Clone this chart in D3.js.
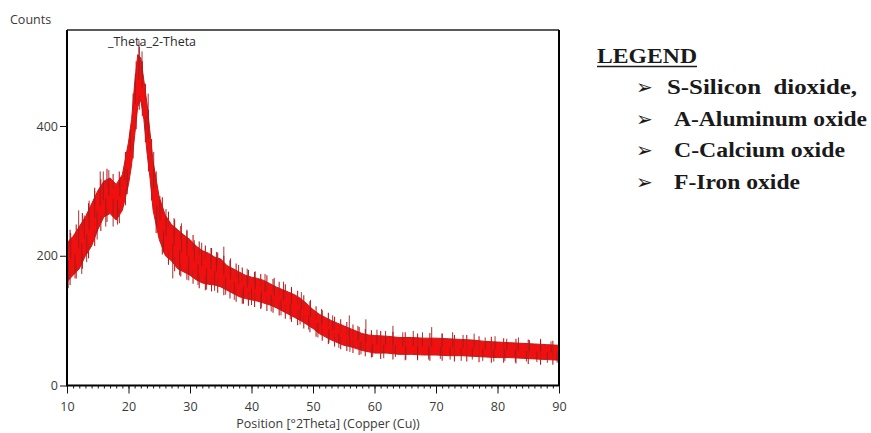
<!DOCTYPE html>
<html>
<head>
<meta charset="utf-8">
<script src="https://cdn.jsdelivr.net/npm/d3@7"></script>
<style>
  html, body { margin: 0; padding: 0; background: #fff; }
  svg { display: block; }
</style>
</head>
<body>
<svg id="chart" width="871" height="433"></svg>
<script>
// ---- data ----
const angles = [10,11,12,13,14,15,16,17,18,19,20,20.5,21,21.5,22,22.5,23,23.5,24,25,26,27,28,29,30,31,32,33,34,35,36,37,38,39,40,41,42,43,44,45,46,47,48,49,50,51,52,53,54,55,56,57,58,59,60,62,64,66,68,70,72,74,76,78,80,82,84,86,88,90];
const countsLow = [160,170,180,200,215,240,260,265,255,270,310,340,385,430,440,410,360,320,270,225,200,192,180,175,170,163,158,156,155,152,147,142,137,134,132,130,127,124,120,115,110,105,100,94,88,80,75,70,66,62,60,57,54,52,50,50,48,48,47,47,46,46,45,44,43,43,42,41,40,39];
const countsHigh = [220,230,245,260,280,300,315,320,310,325,375,410,465,510,505,470,435,390,345,290,262,248,240,232,225,215,208,204,198,195,185,180,175,170,167,165,162,157,152,148,144,140,134,126,117,110,105,100,96,92,88,84,80,78,77,76,74,74,73,73,72,71,70,68,67,66,65,64,63,62];
// tall spikes
const spikeUpAngles = [10.6,11.9,12.8,13.6,14.5,15.4,15.9,16.8,18.6,19.4,20.3,21.1,21.7,22.2,23.2,24.1,25.1,26.1,27.4,28.6,29.5,30.7,31.9,33.4,34.3,35.5,36.6,37.9,39.3,40.6,42.2,43.7,45.2,46.5,48.1,49.6,51.4,53.2,55.9,57.3,58.6,60.4,61.8,63.0,64.6,66.3,67.8,69.3,71.0,72.7,74.4,76.2,78.0,79.6,81.5,83.4,85.2,87.0,88.7];
const spikeUpCounts = [235,270,262,285,300,330,330,332,320,335,395,480,532,515,450,360,292,272,258,250,238,224,220,212,206,214,196,186,180,176,172,166,160,152,144,132,118,108,108,92,102,86,84,92,82,84,82,90,80,82,78,80,74,76,72,74,70,72,68];
const spikeDownAngles = [10.2,11.3,12.4,13.2,14.9,16.3,17.5,18.2,19.8,22.8,24.6,25.7,27.2,28.3,29.8,31.3,32.7,34.0,35.8,37.2,38.7,40.0,41.6,43.2,44.8,46.3,47.9,49.3,50.8,52.6,54.2,56.0,57.8,59.7,61.5,63.4,65.1,67.0,68.8,70.7,72.3,74.1,75.9,77.6,79.4,81.2,82.9,84.7,86.4,88.1,89.7];
const spikeDownCounts = [150,165,172,190,225,245,245,248,295,395,245,205,165,170,162,155,148,146,140,132,126,124,120,114,108,102,94,86,74,66,58,52,48,44,42,44,40,42,40,41,40,38,40,38,37,38,36,37,36,35,35];
// small noise fringe along the band edges
const fringeUpAngles = [10.5,11.5,12.5,13.5,14.5,15.5,16.5,17.5,18.5,19.5,20.75,21.25,21.75,22.25,22.75,23.25,23.75,24.5,25.5,26.5,27.5,28.5,29.5,30.5,31.5,32.5,33.5,34.5,35.5,36.5,37.5,38.5,39.5,40.5,41.5,42.5,43.5,44.5,45.5,46.5,47.5,48.5,49.5,50.5,51.5,52.5,53.5,54.5,55.5,56.5,57.5,58.5,59.5,61,63,65,67,69,71,73,75,77,79,81,83,85,87,89];
const fringeUpCounts = [240,248,266,281,305,318,334,326,330,360,450,500,522,500,465,425,380,330,290,268,256,246,240,232,222,216,212,205,200,193,188,182,178,175,172,170,164,160,156,151,146,139,130,122,116,112,106,102,98,94,90,87,85,84,83,82,80,81,80,78,78,76,75,73,72,71,70,69];
const fringeDownAngles = [10.5,11.5,12.5,13.5,14.5,15.5,16.5,18.5,19.5,20.75,21.25,21.75,22.25,22.75,23.25,23.75,24.5,25.5,26.5,27.5,28.5,29.5,30.5,31.5,32.5,33.5,34.5,35.5,36.5,37.5,38.5,39.5,40.5,41.5,42.5,43.5,44.5,45.5,46.5,47.5,48.5,49.5,50.5,51.5,52.5,53.5,54.5,55.5,56.5,57.5,58.5,59.5,61,63,65,67,69,71,73,75,77,79,81,83,85,87,89];
const fringeDownCounts = [155,165,180,196,215,238,252,250,278,350,395,425,415,375,330,285,235,202,186,176,168,163,157,150,147,145,143,139,134,129,126,123,121,118,115,112,108,103,98,93,88,82,75,69,64,60,56,53,50,47,45,43,41,40,39,39,38,38,37,37,36,35,35,34,33,32,32];
const xTicks = [10,20,30,40,50,60,70,80,90];
const yTicks = [0,200,400];
const legendItems = ["S-Silicon  dioxide,", "A-Aluminum oxide", "C-Calcium oxide", "F-Iron oxide"];

// ---- drawing ----
const svg = d3.select("#chart");
const L = 67, R = 559, T = 30, B = 385.5;
const x = d3.scaleLinear().domain([10, 90]).range([L, R]);
const y = d3.scaleLinear().domain([0, 548]).range([B, T]);

const band = angles.map((a, i) => ({a, lo: countsLow[i], hi: countsHigh[i]}));
const red = "#f01010";

svg.append("path")
  .datum(band)
  .attr("d", d3.area().x(d => x(d.a)).y0(d => y(d.lo)).y1(d => y(d.hi)))
  .attr("fill", red)
  .attr("stroke", "#c41a1a")
  .attr("stroke-width", 1);

// band limits at a given angle (anchor for spikes)
const bis = d3.bisector(d => d.a).left;
function bandAt(a) {
  let i = Math.max(1, Math.min(band.length - 1, bis(band, a)));
  const p = band[i - 1], q = band[i];
  const t = (a - p.a) / (q.a - p.a);
  return {lo: p.lo * (1 - t) + q.lo * t, hi: p.hi * (1 - t) + q.hi * t};
}
function centre(a) { const b = bandAt(a); return (b.lo + b.hi) / 2; }

const fringe = fringeUpAngles.map((a, i) => ({a, v: fringeUpCounts[i], up: true}))
  .concat(fringeDownAngles.map((a, i) => ({a, v: fringeDownCounts[i], up: false})));
svg.append("g").selectAll("line").data(fringe).join("line")
  .attr("x1", d => x(d.a)).attr("x2", d => x(d.a))
  .attr("y1", d => { const b = bandAt(d.a); return y(d.up ? b.hi - 12 : b.lo + 12); })
  .attr("y2", d => y(d.v))
  .attr("stroke", "#c21b1b").attr("stroke-width", 1.1);

const spikes = spikeUpAngles.map((a, i) => ({a, v: spikeUpCounts[i]}))
  .concat(spikeDownAngles.map((a, i) => ({a, v: spikeDownCounts[i]})));
svg.append("g").selectAll("line").data(spikes).join("line")
  .attr("x1", d => x(d.a)).attr("x2", d => x(d.a))
  .attr("y1", d => y(centre(d.a))).attr("y2", d => y(d.v))
  .attr("stroke", "#9c1c1c").attr("stroke-width", 0.9);

// frame
svg.append("line").attr("x1", L).attr("x2", R).attr("y1", T).attr("y2", T).attr("stroke", "#222").attr("stroke-width", 1.3);
svg.append("line").attr("x1", R).attr("x2", R).attr("y1", T).attr("y2", B).attr("stroke", "#000").attr("stroke-width", 2);
svg.append("line").attr("x1", L).attr("x2", L).attr("y1", T).attr("y2", B + 1).attr("stroke", "#000").attr("stroke-width", 2);
svg.append("line").attr("x1", L).attr("x2", R + 1).attr("y1", B).attr("y2", B).attr("stroke", "#000").attr("stroke-width", 2);

const font = "'Open Sans', 'DejaVu Sans', sans-serif";

// x axis
const gxMinor = svg.append("g").attr("transform", `translate(0,${B})`)
  .call(d3.axisBottom(x).tickValues(d3.range(10, 91, 1)).tickSize(3).tickFormat(""));
gxMinor.select(".domain").remove();
gxMinor.selectAll("line").attr("stroke", "#111");
const gx = svg.append("g").attr("transform", `translate(0,${B})`)
  .call(d3.axisBottom(x).tickValues(xTicks).tickSize(8).tickPadding(9).tickFormat(d3.format("d")));
gx.select(".domain").remove();
gx.selectAll("line").attr("stroke", "#111");
gx.selectAll("text").attr("font-family", font).attr("font-size", 12.5).attr("fill", "#3a3a3a");

// y axis
const gy = svg.append("g").attr("transform", `translate(${L},0)`)
  .call(d3.axisLeft(y).tickValues(yTicks).tickSize(7).tickPadding(2).tickFormat(d3.format("d")));
gy.select(".domain").remove();
gy.selectAll("line").attr("stroke", "#111");
gy.selectAll("text").attr("font-family", font).attr("font-size", 12.5).attr("fill", "#3a3a3a");

// titles
svg.append("text").attr("x", 10).attr("y", 24).text("Counts")
  .attr("font-family", font).attr("font-size", 12.5).attr("fill", "#3a3a3a");
svg.append("text").attr("x", 108).attr("y", 46).text("_Theta_2-Theta")
  .attr("font-family", font).attr("font-size", 12.5).attr("fill", "#2a2a2a");
svg.append("text").attr("x", (218 + 438) / 2).attr("y", 428).attr("text-anchor", "middle")
  .text("Position [°2Theta] (Copper (Cu))")
  .attr("font-family", font).attr("font-size", 12.5).attr("fill", "#3a3a3a");

// legend
const serif = "'Liberation Serif', 'Times New Roman', serif";
svg.append("text").attr("x", 597).attr("y", 63).text("LEGEND")
  .attr("font-family", serif).attr("font-weight", "bold").attr("font-size", 20)
  .attr("textLength", 100).attr("lengthAdjust", "spacingAndGlyphs").attr("fill", "#1a1a1a");
svg.append("line").attr("x1", 597).attr("x2", 697).attr("y1", 66.5).attr("y2", 66.5)
  .attr("stroke", "#1a1a1a").attr("stroke-width", 1.5);
const legendLen = [190, 193, 171, 126];
const legendX = [667, 674, 674, 674];
const lg = svg.append("g").selectAll("g").data(legendItems).join("g")
  .attr("transform", (d, i) => `translate(0,${94 + i * 31.5})`);
lg.append("text").attr("x", 636).attr("y", 0).text("➢")
  .attr("font-family", "'DejaVu Sans', sans-serif").attr("font-size", 20).attr("fill", "#1a1a1a");
lg.append("text").attr("x", (d, i) => legendX[i]).attr("y", 0).text(d => d)
  .attr("font-family", serif).attr("font-weight", "bold").attr("font-size", 20)
  .attr("textLength", (d, i) => legendLen[i]).attr("lengthAdjust", "spacingAndGlyphs")
  .attr("fill", "#1a1a1a").style("white-space", "pre");
</script>
</body>
</html>
